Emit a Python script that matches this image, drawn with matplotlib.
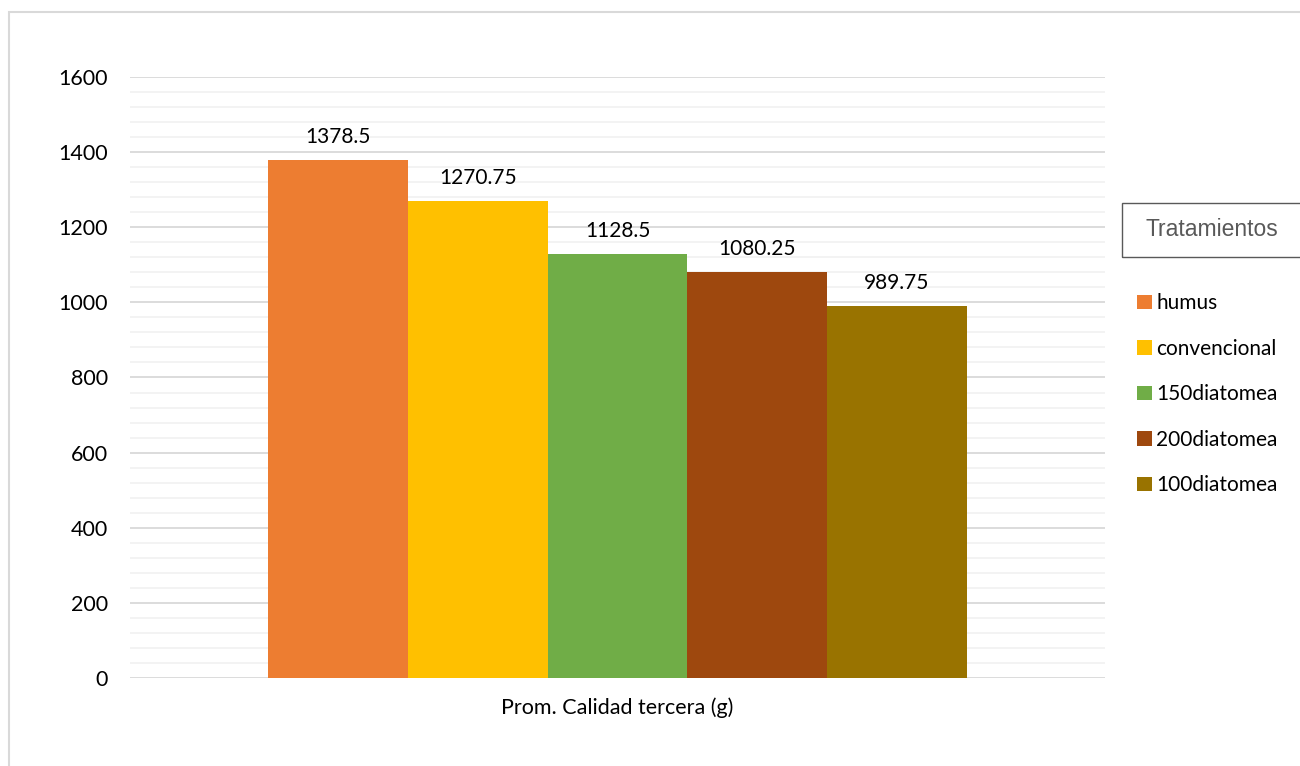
import numpy as np
import matplotlib.pyplot as plt
from matplotlib.patches import Rectangle

plt.rcParams['font.family'] = ['Lato', 'DejaVu Sans']

treatments = ["humus", "convencional", "150diatomea", "200diatomea", "100diatomea"]
values = [1378.5, 1270.75, 1128.5, 1080.25, 989.75]
value_labels = ["1378.5", "1270.75", "1128.5", "1080.25", "989.75"]
colors = ["#ED7D31", "#FFC000", "#70AD47", "#9E480E", "#997300"]
category = "Prom. Calidad tercera (g)"

fig = plt.figure(figsize=(13, 7.66), dpi=100)
ax = fig.add_axes([0.1, 0.1149, 0.75, 0.7846])

x = np.arange(len(values)) - 2
for xi, v, lab, c, name in zip(x, values, value_labels, colors, treatments):
    ax.bar(xi, v, width=1.0, color=c, label=name, zorder=3)
    ax.text(xi, v + 34, lab, ha="center", va="bottom", fontsize=15, color="#000000")

ax.set_xlim(-3.49, 3.49)
ax.set_ylim(0, 1600)
ax.set_yticks(np.arange(0, 1601, 200))
ax.set_yticks(np.arange(0, 1601, 40), minor=True)
ax.grid(axis="y", which="major", color="#d9d9d9", linewidth=1.3, zorder=0)
ax.grid(axis="y", which="minor", color="#f2f2f2", linewidth=1.3, zorder=0)
for s in ax.spines.values():
    s.set_visible(False)
ax.tick_params(axis="y", which="both", length=0, labelsize=15.5, pad=16)
ax.set_xticks([0])
ax.set_xticklabels([category], fontsize=15.5)
ax.tick_params(axis="x", length=0, pad=14)

# outer chart border
fig.patches.append(Rectangle((9 / 1300, -0.05), 1.1, 1 - 12 / 766 + 0.05,
                             transform=fig.transFigure, fill=False,
                             edgecolor="#d9d9d9", linewidth=1.5))

# legend title box
fig.patches.append(Rectangle((1122 / 1300, 1 - 257 / 766), 0.2, 54 / 766,
                             transform=fig.transFigure, fill=False,
                             edgecolor="#595959", linewidth=1.0))
fig.text(1212 / 1300, 1 - 229 / 766, "Tratamientos", ha="center", va="center",
         fontsize=16.5, color="#595959", family=["Liberation Sans", "DejaVu Sans"])

leg = ax.legend(loc="upper left", bbox_to_anchor=(1127 / 1300, 1 - 283 / 766),
                bbox_transform=fig.transFigure, frameon=False, fontsize=15,
                handlelength=0.68, handleheight=0.68, handletextpad=0.22,
                labelspacing=1.22, borderpad=0)

fig.savefig("out.png", dpi=100, facecolor="white")
